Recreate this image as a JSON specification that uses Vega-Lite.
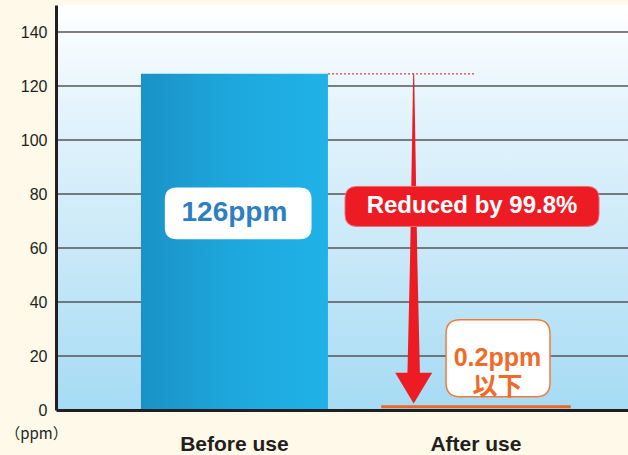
{
  "$schema": "https://vega.github.io/schema/vega-lite/v6.json",
  "width": 572,
  "height": 405,
  "autosize": {"type": "none"},
  "padding": {"left": 56, "top": 5, "right": 0, "bottom": 45},
  "background": "#FEF9E8",
  "config": {"view": {"stroke": null}, "font": "Liberation Sans"},
  "datasets": {
    "bars": [{"stage": "Before use", "ppm": 124.5}, {"stage": "After use", "ppm": 0.2}],
    "grid": [{"v": 20}, {"v": 40}, {"v": 60}, {"v": 80}, {"v": 100}, {"v": 120}, {"v": 140}],
    "bg": [{"top": 150, "bottom": 0}],
    "ref": [{"from": "Before use", "to": "After use", "ppm": 124.5}],
    "shaft": [
      {"stage": "After use", "ppm": 124.5, "w": 1},
      {"stage": "After use", "ppm": 55.5, "w": 7.3},
      {"stage": "After use", "ppm": 13.5, "w": 12.5}
    ],
    "head": [{"stage": "After use", "ppm": 8.1}],
    "before_label": [{"stage": "Before use", "ppm": 72.8, "label": "126ppm"}],
    "reduce_label": [{"stage": "After use", "ppm": 75.4, "label": "Reduced by 99.8%"}],
    "after_label": [{"stage": "After use", "ppm": 19.2, "label": "0.2ppm\n以下"}]
  },
  "layer": [
    {
      "data": {"name": "bg"},
      "mark": {
        "type": "rect",
        "fill": {
          "gradient": "linear", "x1": 0, "y1": 0, "x2": 0, "y2": 1,
          "stops": [
            {"offset": 0, "color": "#FFFFFF"},
            {"offset": 0.25, "color": "#E4F4FC"},
            {"offset": 0.6, "color": "#CAE9F8"},
            {"offset": 1, "color": "#A5DBF4"}
          ]
        }
      },
      "encoding": {
        "y": {"field": "top", "type": "quantitative", "scale": {"domain": [0, 150], "nice": false}},
        "y2": {"field": "bottom"}
      }
    },
    {
      "data": {"name": "grid"},
      "mark": {"type": "rule", "color": "#555557", "strokeWidth": 1.3},
      "encoding": {"y": {"field": "v", "type": "quantitative"}}
    },
    {
      "data": {"name": "bars"},
      "transform": [{"filter": "datum.stage === 'Before use'"}],
      "mark": {
        "type": "bar",
        "fill": {
          "gradient": "linear", "x1": 0, "y1": 0, "x2": 1, "y2": 0,
          "stops": [
            {"offset": 0, "color": "#1A92C7"},
            {"offset": 0.5, "color": "#1DA8DD"},
            {"offset": 1, "color": "#20B2E7"}
          ]
        }
      },
      "encoding": {
        "x": {
          "field": "stage", "type": "nominal", "sort": null,
          "scale": {"type": "band", "domain": ["Before use", "After use"], "paddingInner": 0.2257, "paddingOuter": 0.2971, "align": 0.592},
          "axis": {
            "title": null, "labelAngle": 0, "ticks": false, "tickSize": 0,
            "labelFontSize": 21, "labelFontWeight": "bold", "labelColor": "#231F20",
            "labelPadding": 23, "domainColor": "#231F20", "domainWidth": 3, "zindex": 1,
            "labelFont": "Liberation Sans"
          }
        },
        "y": {
          "field": "ppm", "type": "quantitative",
          "axis": {
            "values": [0, 20, 40, 60, 80, 100, 120, 140], "grid": false,
            "ticks": false, "tickSize": 0, "labelPadding": 9, "labelFontSize": 16,
            "labelColor": "#231F20", "labelFont": "Liberation Sans",
            "domainColor": "#231F20", "domainWidth": 3, "zindex": 1,
            "title": "（ppm）", "titleAngle": 0, "titleX": -20, "titleY": 428,
            "titleAlign": "center", "titleBaseline": "middle", "titleFontSize": 15,
            "titleFontWeight": "normal", "titleColor": "#231F20",
            "titleFont": "Noto Sans CJK JP"
          }
        }
      }
    },
    {
      "data": {"name": "bars"},
      "transform": [{"filter": "datum.stage === 'After use'"}],
      "mark": {"type": "bar", "fill": "#E8672A", "stroke": "#E8672A", "strokeWidth": 2.5, "yOffset": -3},
      "encoding": {
        "x": {"field": "stage", "type": "nominal"},
        "y": {"field": "ppm", "type": "quantitative"}
      }
    },
    {
      "data": {"name": "ref"},
      "mark": {"type": "rule", "color": "#D93A4A", "strokeDash": [2, 2], "strokeWidth": 1.2},
      "encoding": {
        "x": {"field": "from", "type": "nominal", "bandPosition": 1},
        "x2": {"field": "to", "bandPosition": 0.5},
        "y": {"field": "ppm", "type": "quantitative"}
      }
    },
    {
      "data": {"name": "shaft"},
      "mark": {"type": "trail", "color": "#ED1C24"},
      "encoding": {
        "x": {"field": "stage", "type": "nominal", "bandPosition": 0.167},
        "y": {"field": "ppm", "type": "quantitative"},
        "size": {"field": "w", "type": "quantitative", "scale": null, "legend": null}
      }
    },
    {
      "data": {"name": "head"},
      "mark": {"type": "point", "shape": "M-1,-0.83L1,-0.83L0,0.83Z", "filled": true, "color": "#ED1C24", "opacity": 1, "size": 1369, "strokeWidth": 0},
      "encoding": {
        "x": {"field": "stage", "type": "nominal", "bandPosition": 0.167},
        "y": {"field": "ppm", "type": "quantitative"}
      }
    },
    {
      "data": {"name": "before_label"},
      "mark": {"type": "point", "shape": "M-0.836,-0.352L0.836,-0.352Q1,-0.352 1,-0.188L1,0.188Q1,0.352 0.836,0.352L-0.836,0.352Q-1,0.352 -1,0.188L-1,-0.188Q-1,-0.352 -0.836,-0.352Z", "filled": true, "color": "#FFFFFF", "opacity": 1, "size": 21521, "strokeWidth": 0},
      "encoding": {
        "x": {"field": "stage", "type": "nominal", "bandPosition": 0.52},
        "y": {"field": "ppm", "type": "quantitative"}
      }
    },
    {
      "data": {"name": "before_label"},
      "mark": {"type": "text", "font": "Liberation Sans", "fontWeight": "bold", "fontSize": 28, "color": "#2E7FC2", "align": "center", "baseline": "middle"},
      "encoding": {
        "x": {"field": "stage", "type": "nominal", "bandPosition": 0.5},
        "y": {"field": "ppm", "type": "quantitative"},
        "text": {"field": "label"}
      }
    },
    {
      "data": {"name": "reduce_label"},
      "mark": {"type": "point", "shape": "M-0.9055,-0.1575L0.9055,-0.1575Q1,-0.1575 1,-0.063L1,0.063Q1,0.1575 0.9055,0.1575L-0.9055,0.1575Q-1,0.1575 -1,0.063L-1,-0.063Q-1,-0.1575 -0.9055,-0.1575Z", "filled": true, "color": "#ED1C24", "opacity": 1, "size": 64516, "stroke": "#F06A70", "strokeWidth": 1},
      "encoding": {
        "x": {"field": "stage", "type": "nominal", "bandPosition": 0.479},
        "y": {"field": "ppm", "type": "quantitative"}
      }
    },
    {
      "data": {"name": "reduce_label"},
      "mark": {"type": "text", "font": "Liberation Sans", "fontWeight": "bold", "fontSize": 24, "color": "#FFFFFF", "align": "center", "baseline": "middle"},
      "encoding": {
        "x": {"field": "stage", "type": "nominal", "bandPosition": 0.479},
        "y": {"field": "ppm", "type": "quantitative"},
        "text": {"field": "label"}
      }
    },
    {
      "data": {"name": "after_label"},
      "mark": {"type": "point", "shape": "M-0.731,-0.74L0.731,-0.74Q1,-0.74 1,-0.471L1,0.471Q1,0.74 0.731,0.74L-0.731,0.74Q-1,0.74 -1,0.471L-1,-0.471Q-1,-0.74 -0.731,-0.74Z", "filled": true, "color": "#FFFFFF", "opacity": 1, "size": 10816, "stroke": "#F07A3A", "strokeWidth": 1.5},
      "encoding": {
        "x": {"field": "stage", "type": "nominal", "bandPosition": 0.618},
        "y": {"field": "ppm", "type": "quantitative"}
      }
    },
    {
      "data": {"name": "after_label"},
      "mark": {"type": "text", "font": "Liberation Sans, Noto Sans CJK JP", "fontWeight": "bold", "fontSize": 25, "lineHeight": 29, "lineBreak": "\n", "color": "#F06A28", "align": "center", "baseline": "middle"},
      "encoding": {
        "x": {"field": "stage", "type": "nominal", "bandPosition": 0.615},
        "y": {"field": "ppm", "type": "quantitative"},
        "text": {"field": "label"}
      }
    }
  ]
}
